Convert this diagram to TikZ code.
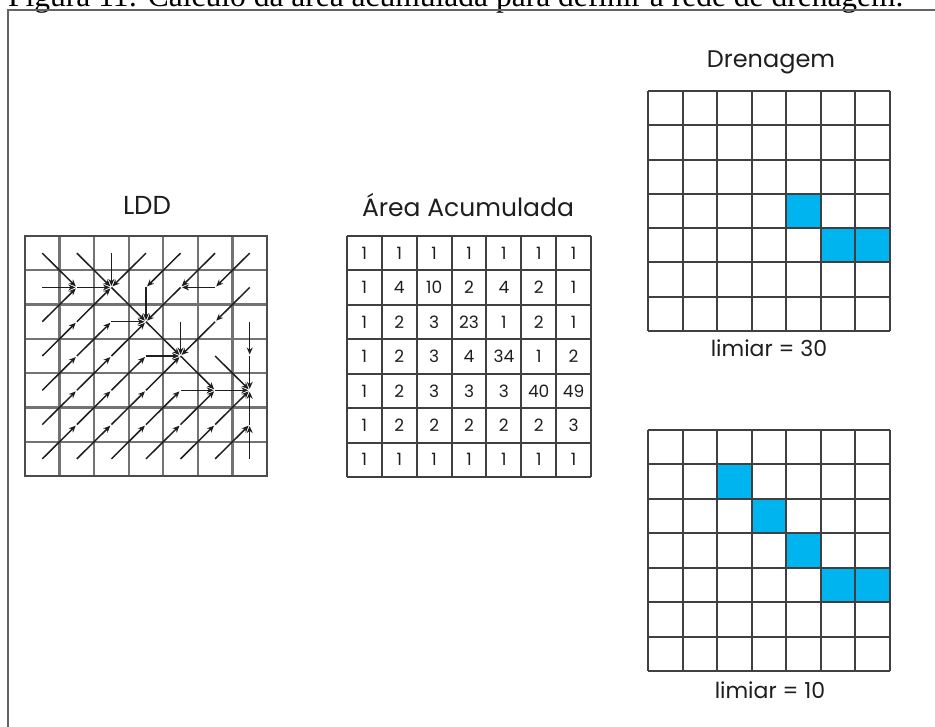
\documentclass[tikz,border=0pt]{standalone}
\usepackage{fontspec}
\setmainfont{Liberation Serif}
\newfontfamily\comicfont{Poppins}
\usetikzlibrary{arrows.meta}
\definecolor{cellblue}{RGB}{0,180,240}
\definecolor{framegray}{RGB}{100,100,100}
\definecolor{lddgray}{RGB}{115,115,115}
\definecolor{inkdark}{RGB}{30,30,30}
\tikzset{
  lddgrid/.style={draw=lddgray, line width=2.2pt},
  lddborder/.style={draw=inkdark!80, line width=2.2pt},
  gridline/.style={draw=inkdark!85, line width=1.9pt},
  flow/.style={draw=inkdark, line width=1.5pt, -{Stealth[length=7pt,width=6pt]}, shorten >=1.5pt},
  titletext/.style={font=\comicfont\fontsize{25}{28}\selectfont, text=inkdark, anchor=base, inner sep=0pt},
  labeltext/.style={font=\comicfont\fontsize{22}{26}\selectfont, text=inkdark, anchor=base, inner sep=0pt},
  numtext/.style={font=\comicfont\fontsize{17}{19}\selectfont, text=inkdark, inner sep=0pt},
  bluecell/.style={fill=cellblue, draw=none}
}
\begin{document}
\begin{tikzpicture}[x=1pt,y=-1pt]
\useasboundingbox (0,0) rectangle (935,727);

% caption (cut at the top)
\node[font=\fontsize{31.5}{34}\selectfont, anchor=base west, inner sep=0pt] (caption) at (8,6.5)
  {Figura 11: Cálculo da área acumulada para definir a rede de drenagem.};
\coordinate (cursortop) at (500,-5);
\coordinate (cursorbot) at (500,10);
\draw[black, line width=1pt] (cursortop) -- (cursorbot);

% frame
\coordinate (frameBL) at (8,760);
\coordinate (frameTL) at (8,10);
\coordinate (frameTR) at (960,10);
\draw[framegray, line width=1.6pt] (frameBL) -- (frameTL) -- (frameTR);

% ---------------- LDD ----------------
\node[titletext, font=\comicfont\fontsize{26}{29}\selectfont] (lddtitle) at (147,215) {LDD};
\foreach \i in {1,...,6} {
  \draw[lddgrid] ({25+\i*34.57},236) -- ({25+\i*34.57},476);
  \draw[lddgrid] (25,{236+\i*34.29}) -- (267,{236+\i*34.29});
}
\draw[lddborder] (25,236) rectangle (267,476);
\foreach \ri in {0,...,6} {
  \foreach \ci in {0,...,6} {
    \coordinate (L-\ri-\ci) at ({25+34.57*(\ci+0.5)},{236+34.29*(\ri+0.5)});
  }
}
\foreach \sa/\sb/\ta/\tb in {
  0/0/1/1, 0/1/1/2, 0/2/1/2, 0/3/1/2, 0/4/1/3, 0/5/1/4, 0/6/1/5,
  1/0/1/1, 1/1/1/2, 1/2/2/3, 1/3/2/3, 1/4/2/3, 1/5/1/4, 1/6/2/5,
  2/0/1/1, 2/1/1/2, 2/2/2/3, 2/3/3/4, 2/4/3/4, 2/5/3/4, 2/6/3/6,
  3/0/2/1, 3/1/2/2, 3/2/2/3, 3/3/3/4, 3/4/4/5, 3/5/4/6, 3/6/4/6,
  4/0/3/1, 4/1/3/2, 4/2/3/3, 4/3/3/4, 4/4/4/5, 4/5/4/6,
  5/0/4/1, 5/1/4/2, 5/2/4/3, 5/3/4/4, 5/4/4/5, 5/5/4/6, 5/6/4/6,
  6/0/5/1, 6/1/5/2, 6/2/5/3, 6/3/5/4, 6/4/5/5, 6/5/5/6, 6/6/5/6} {
  \draw[flow] (L-\sa-\sb) -- (L-\ta-\tb);
}

% ---------------- Area Acumulada ----------------
\node[titletext] (areatitle) at (468,216.5) {Área Acumulada};
\foreach \row [count=\ri from 0] in {
  {1,1,1,1,1,1,1},
  {1,4,10,2,4,2,1},
  {1,2,3,23,1,2,1},
  {1,2,3,4,34,1,2},
  {1,2,3,3,3,40,49},
  {1,2,2,2,2,2,3},
  {1,1,1,1,1,1,1}} {
  \foreach \v [count=\ci from 0] in \row {
    \node[numtext] (A-\ri-\ci) at ({347+34.86*(\ci+0.5)},{236+34.43*(\ri+0.5)}) {\v};
  }
}
\foreach \i in {0,...,7} {
  \draw[gridline] ({347+\i*34.86},236) -- ({347+\i*34.86},477);
  \draw[gridline] (347,{236+\i*34.43}) -- (591,{236+\i*34.43});
}

% ---------------- Drenagem (limiar = 30) ----------------
\node[titletext, font=\comicfont\fontsize{24}{27}\selectfont] (drentitle) at (771,68) {Drenagem};
\foreach \ri/\ci in {3/4, 4/5, 4/6} {
  \fill[bluecell] ({648+34.57*\ci},{91+34.29*\ri}) rectangle ++(34.57,34.29);
}
\foreach \i in {0,...,7} {
  \draw[gridline] ({648+\i*34.57},91) -- ({648+\i*34.57},331);
  \draw[gridline] (648,{91+\i*34.29}) -- (890,{91+\i*34.29});
}
\node[labeltext] (lim30) at (769,357) {limiar = 30};

% ---------------- Drenagem (limiar = 10) ----------------
\foreach \ri/\ci in {1/2, 2/3, 3/4, 4/5, 4/6} {
  \fill[bluecell] ({648+34.57*\ci},{430+34.43*\ri}) rectangle ++(34.57,34.43);
}
\foreach \i in {0,...,7} {
  \draw[gridline] ({648+\i*34.57},430) -- ({648+\i*34.57},671);
  \draw[gridline] (648,{430+\i*34.43}) -- (890,{430+\i*34.43});
}
\node[labeltext] (lim10) at (770,698) {limiar = 10};
\end{tikzpicture}
\end{document}
